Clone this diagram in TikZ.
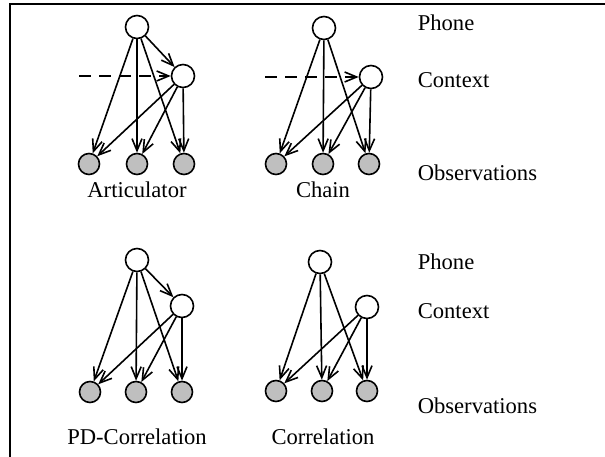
\documentclass[tikz,border=0pt]{standalone}
\usepackage{fontspec}
\setmainfont{Liberation Serif}
\usetikzlibrary{arrows.meta}
\begin{document}
\begin{tikzpicture}[x=1pt, y=-1pt, line width=1.6pt,
    var/.style={shape=circle, draw, minimum size=23pt, inner sep=0pt},
    obs/.style={shape=circle, draw, fill=gray!50, minimum size=21pt, inner sep=0pt},
    lab/.style={font=\fontsize{22.6}{26}\selectfont, inner sep=0pt},
    arr/.style={-{Straight Barb[length=12pt,width=10pt]}}]
  \useasboundingbox (0,0) rectangle (605,457);
  \draw (10,457) -- (10,4) -- (605,4);
  % Articulator
  \node[var] (pa) at (137,27) {};
  \node[var] (ca) at (183,76) {};
  \node[obs] (oa1) at (89,164) {};
  \node[obs] (oa2) at (137,164) {};
  \node[obs] (oa3) at (184,164) {};
  \coordinate (da) at (79,76);
  \node[lab] (la) at (137,190) {Articulator};
  \draw[arr] (pa) -- (ca);
  \draw[arr] (pa) -- (oa1);
  \draw[arr] (pa) -- (oa2);
  \draw[arr] (pa) -- (oa3);
  \draw[arr] (ca) -- (oa1);
  \draw[arr] (ca) -- (oa2);
  \draw[arr] (ca) -- (oa3);
  \draw[arr, dash pattern=on 12pt off 8pt] (da) -- (ca);
  % Chain
  \node[var] (pb) at (324,28) {};
  \node[var] (cb) at (371,77) {};
  \node[obs] (ob1) at (276,164) {};
  \node[obs] (ob2) at (323,164) {};
  \node[obs] (ob3) at (369,164) {};
  \coordinate (db) at (265,77);
  \node[lab] (lb) at (323,190) {Chain};
  \draw[arr] (pb) -- (ob1);
  \draw[arr] (pb) -- (ob2);
  \draw[arr] (pb) -- (ob3);
  \draw[arr] (cb) -- (ob1);
  \draw[arr] (cb) -- (ob2);
  \draw[arr] (cb) -- (ob3);
  \draw[arr, dash pattern=on 12pt off 8pt] (db) -- (cb);
  % PD-Correlation
  \node[var] (pc) at (137,260) {};
  \node[var] (cc) at (182,306) {};
  \node[obs] (oc1) at (90,392) {};
  \node[obs] (oc2) at (136,392) {};
  \node[obs] (oc3) at (182,392) {};
  \node[lab] (lc) at (137,437) {PD-Correlation};
  \draw[arr] (pc) -- (cc);
  \draw[arr] (pc) -- (oc1);
  \draw[arr] (pc) -- (oc2);
  \draw[arr] (pc) -- (oc3);
  \draw[arr] (cc) -- (oc1);
  \draw[arr] (cc) -- (oc2);
  \draw[arr] (cc) -- (oc3);
  % Correlation
  \node[var] (pd) at (320,262) {};
  \node[var] (cd) at (367,307) {};
  \node[obs] (od1) at (276,391) {};
  \node[obs] (od2) at (322,391) {};
  \node[obs] (od3) at (367,391) {};
  \node[lab] (ld) at (323,437) {Correlation};
  \draw[arr] (pd) -- (od1);
  \draw[arr] (pd) -- (od2);
  \draw[arr] (pd) -- (od3);
  \draw[arr] (cd) -- (od1);
  \draw[arr] (cd) -- (od2);
  \draw[arr] (cd) -- (od3);
  % level names
  \node[lab, anchor=west] (ph1) at (417,23) {Phone};
  \node[lab, anchor=west] (cx1) at (417,80) {Context};
  \node[lab, anchor=west] (ob1n) at (417,173) {Observations};
  \node[lab, anchor=west] (ph2) at (417,262) {Phone};
  \node[lab, anchor=west] (cx2) at (417,311) {Context};
  \node[lab, anchor=west] (ob2n) at (417,406) {Observations};
\end{tikzpicture}
\end{document}
